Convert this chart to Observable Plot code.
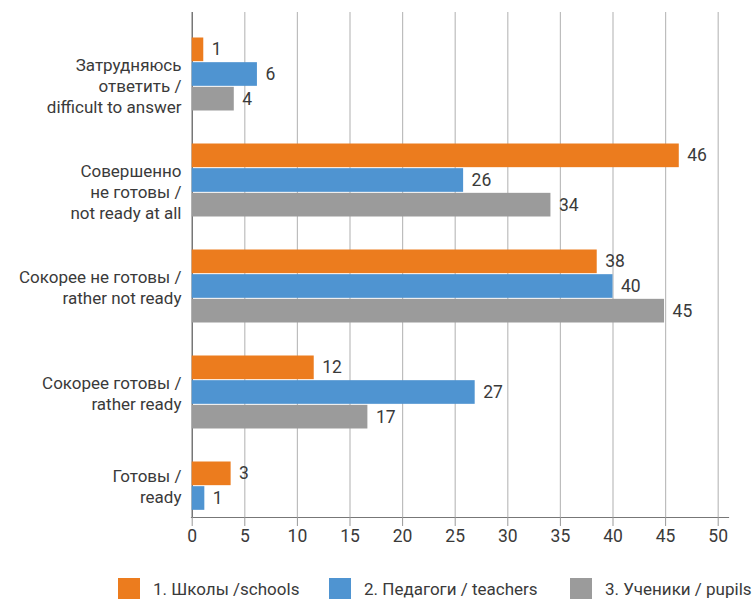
<!DOCTYPE html>
<html>
<head>
<meta charset="utf-8">
<script src="https://cdn.jsdelivr.net/npm/d3@7"></script>
<script src="https://cdn.jsdelivr.net/npm/@observablehq/plot@0.6"></script>
<style>
  body { margin: 0; background: #fff; font-family: Roboto, "Noto Sans", sans-serif; }
  #chart svg { display: block; }
  #legend { position: relative; height: 39px; font-size: 17px; color: #3a3a3a; }
  .item { position: absolute; top: 18px; display: flex; align-items: center; white-space: nowrap; }
  .sw { width: 22px; height: 21px; margin-right: 13px; }
</style>
</head>
<body>
<div id="chart"></div>
<div id="legend"></div>
<script>
// ---- data ----
const categories = [
  "Затрудняюсь\nответить /\ndifficult to answer",
  "Совершенно\nне готовы /\nnot ready at all",
  "Сокорее не готовы /\nrather not ready",
  "Сокорее готовы /\nrather ready",
  "Готовы /\nready"
];
const seriesNames = ["1. Школы /schools", "2. Педагоги / teachers", "3. Ученики / pupils"];
const seriesColors = ["#EC7C1E", "#4F94D1", "#9B9B9B"];
// bar lengths as drawn
const schools  = [1.1, 46.3, 38.5, 11.6, 3.7];
const teachers = [6.2, 25.8, 40.0, 26.9, 1.2];
const pupils   = [4.0, 34.1, 44.9, 16.7, null];
// printed data labels
const schoolsLabels  = ["1", "46", "38", "12", "3"];
const teachersLabels = ["6", "26", "40", "27", "1"];
const pupilsLabels   = ["4", "34", "45", "17", null];
const xTicks = [0, 5, 10, 15, 20, 25, 30, 35, 40, 45, 50];
const legendLefts = [118, 329, 570];

// ---- build rows ----
const seriesValues = [schools, teachers, pupils];
const seriesLabels = [schoolsLabels, teachersLabels, pupilsLabels];
const rowsBySeries = seriesValues.map((vals, s) =>
  categories.map((c, i) => ({category: c, value: vals[i], label: seriesLabels[s][i], series: seriesNames[s]}))
    .filter(d => d.value != null)
);

const bw = 74; // band width of a category group
const third = bw / 3;
const textColor = "#3a3a3a";

const marks = [
  Plot.gridX(xTicks.filter(d => d !== 0), {stroke: "#bdbdbd", strokeOpacity: 1, strokeWidth: 1.2}),
  Plot.ruleX([0], {stroke: "#555", strokeWidth: 1.2}),
  Plot.frame({anchor: "bottom", stroke: "#777", strokeWidth: 1.2}),
  Plot.axisX(xTicks, {tickSize: 9, tickPadding: 3, fontSize: 17.5, fill: textColor, stroke: "#999", tickFormat: d => String(d), label: null}),
];

rowsBySeries.forEach((rows, s) => {
  marks.push(Plot.barX(rows, {
    x: "value", y: "category", fill: seriesColors[s],
    insetTop: s * third + 0.5, insetBottom: (2 - s) * third + 0.5
  }));
  marks.push(Plot.text(rows, {
    x: "value", y: "category", text: "label",
    dx: 8, dy: (s - 1) * third, textAnchor: "start",
    fontSize: 17.5, fill: textColor
  }));
});

// category labels: 3-line labels hang from the group top; 2-line labels centre on the bars present
categories.forEach((c, i) => {
  const nLines = c.split("\n").length;
  const present = seriesValues.filter(v => v[i] != null).length;
  const common = {y: d => d, text: d => d, frameAnchor: "left", textAnchor: "end",
    dx: -10, lineHeight: 1.235, fontSize: 17, fill: textColor};
  marks.push(Plot.text([c], nLines >= 3
    ? {...common, lineAnchor: "top", dy: -18.5}
    : {...common, lineAnchor: "middle", dy: -(3 - present) * third / 2}));
});

const chart = Plot.plot({
  width: 756,
  height: 560,
  marginTop: 12,
  marginBottom: 43,
  marginLeft: 191,
  marginRight: 28,
  style: {fontFamily: "Roboto, 'Noto Sans', sans-serif", background: "#fff"},
  x: {domain: [0, 50], range: [191.7, 717.7], axis: null},
  y: {domain: categories, range: [14.7, 557.3], paddingInner: 0.305, paddingOuter: 0.2, axis: null},
  marks
});
document.getElementById("chart").appendChild(chart);

// ---- legend ----
const legend = document.getElementById("legend");
seriesNames.forEach((name, i) => {
  const item = document.createElement("div");
  item.className = "item";
  item.style.left = legendLefts[i] + "px";
  const sw = document.createElement("span");
  sw.className = "sw";
  sw.style.background = seriesColors[i];
  const t = document.createElement("span");
  t.textContent = name;
  item.appendChild(sw);
  item.appendChild(t);
  legend.appendChild(item);
});
</script>
</body>
</html>
